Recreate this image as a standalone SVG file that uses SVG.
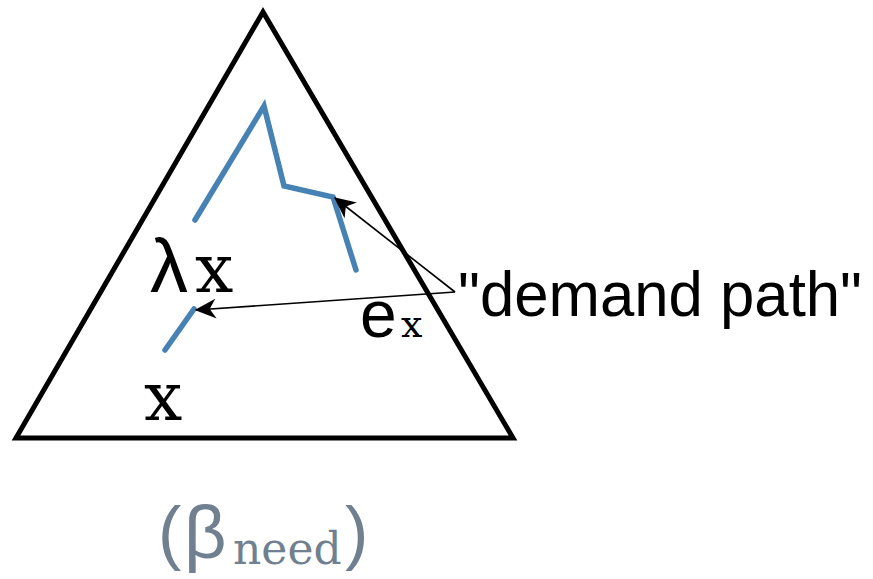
<svg xmlns="http://www.w3.org/2000/svg" width="873" height="579" viewBox="0 0 873 579">
<style>
.tri{fill:none;stroke:#000;stroke-width:5;stroke-linejoin:miter}
.blue{fill:none;stroke:#4682B4;stroke-width:5.5;stroke-linecap:round;stroke-linejoin:miter}
.arr{fill:none;stroke:#000;stroke-width:1.6}
.sans{font-family:"Liberation Sans",Arial,sans-serif;fill:#000}
.tt{font-family:"DejaVu Serif","Liberation Serif",serif;fill:#000}
.gray{fill:#708090}
</style>
<defs>
<marker id="ah" markerUnits="userSpaceOnUse" markerWidth="30" markerHeight="30" viewBox="-20 -10 24 20" refX="0" refY="0" orient="auto">
<path d="M1,0 L-16,-8 L-11,0 L-16,8 Z" fill="#000"/>
</marker>
</defs>
<g id="triangle">
<polygon class="tri" points="263,12 16,438 513,438"/>
</g>
<g id="paths">
<polyline class="blue" points="195,220 264,106 284,186 333,197 356,270"/>
<polyline class="blue" points="165,350 194,309"/>
</g>
<g id="connectors">
<line class="arr" x1="455" y1="292" x2="335" y2="198" marker-end="url(#ah)"/>
<line class="arr" x1="455" y1="292" x2="196" y2="310" marker-end="url(#ah)"/>
</g>
<g id="labels">
<text class="sans" x="150" y="292" font-size="76">λ</text>
<text class="tt" x="195" y="292" font-size="68">x</text>
<text class="tt" x="144" y="420" font-size="68">x</text>
<text class="sans" x="360" y="337" font-size="66">e</text>
<text class="tt" x="401" y="337" font-size="38">x</text>
<text class="sans" x="458" y="316" font-size="63" textLength="404" lengthAdjust="spacingAndGlyphs">"demand path"</text>
</g>
<g id="beta-label">
<text class="sans gray" x="158" y="556" font-size="70">(</text>
<text class="sans gray" x="184" y="558" font-size="74">β</text>
<text class="tt gray" x="233" y="564" font-size="44">need</text>
<text class="sans gray" x="345" y="556" font-size="70">)</text>
</g>
</svg>
